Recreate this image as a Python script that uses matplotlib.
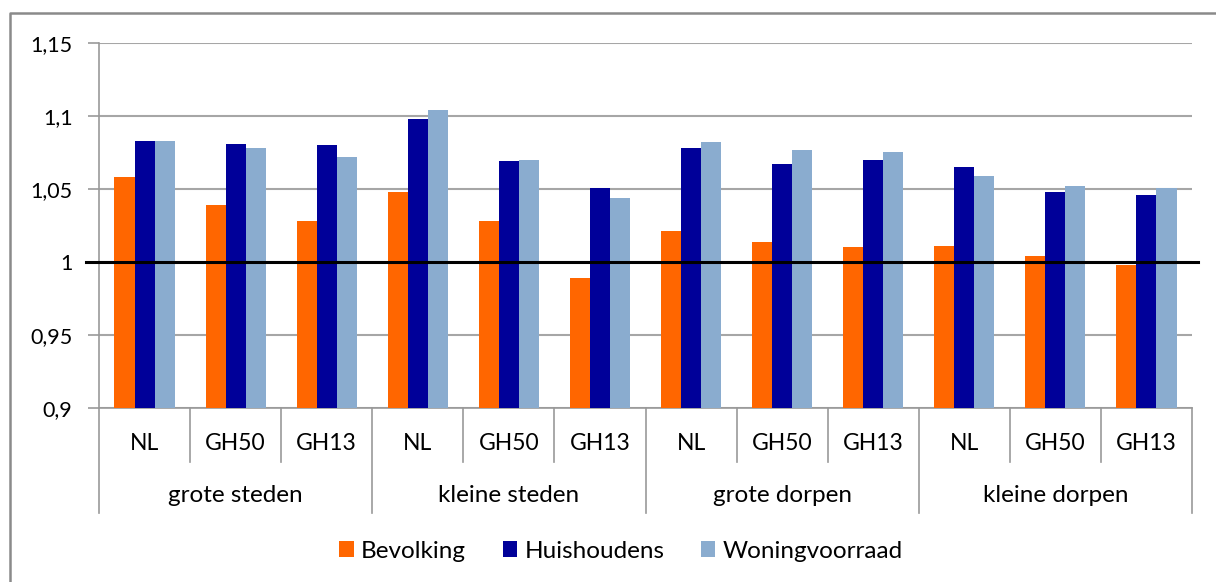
import matplotlib
matplotlib.use("Agg")
import matplotlib.pyplot as plt
from matplotlib.patches import Patch
from matplotlib.lines import Line2D
import matplotlib.transforms as mtransforms
import numpy as np

plt.rcParams['font.family'] = ['Lato', 'DejaVu Sans']

groups = ["grote steden", "kleine steden", "grote dorpen", "kleine dorpen"]
subcats = ["NL", "GH50", "GH13"]
series_names = ["Bevolking", "Huishoudens", "Woningvoorraad"]
bevolking = [1.058, 1.039, 1.028, 1.048, 1.028, 0.989, 1.021, 1.014, 1.010, 1.011, 1.004, 0.998]
huishoudens = [1.083, 1.081, 1.080, 1.098, 1.069, 1.051, 1.078, 1.067, 1.070, 1.065, 1.048, 1.046]
woningvoorraad = [1.083, 1.078, 1.072, 1.104, 1.070, 1.044, 1.082, 1.077, 1.075, 1.059, 1.052, 1.051]
ytick_vals = [0.9, 0.95, 1.0, 1.05, 1.1, 1.15]
ytick_labels = ["0,9", "0,95", "1", "1,05", "1,1", "1,15"]
colors = ["#FF6600", "#000099", "#8AACCF"]

W, H = 1216, 582
fig = plt.figure(figsize=(W / 100, H / 100), dpi=100)
fig.patch.set_facecolor("white")

# outer frame (left and top edges visible)
fig.add_artist(Line2D([10 / W, 10 / W, 1.01], [-0.01, 1 - 13 / H, 1 - 13 / H],
                      transform=fig.transFigure, color="#8a8a8a", lw=1.8))

left, right, top, bottom = 99, 1192, 43, 408
ax = fig.add_axes([left / W, (H - bottom) / H, (right - left) / W, (bottom - top) / H])

n = len(bevolking)
x = np.arange(n)
bw = 0.22
for i, (vals, col) in enumerate(zip([bevolking, huishoudens, woningvoorraad], colors)):
    ax.bar(x + (i - 1) * bw, np.array(vals) - 0.9, bottom=0.9, width=bw, color=col,
           zorder=3, linewidth=0)

ax.set_xlim(-0.5, n - 0.5)
ax.set_ylim(0.9, 1.15)
ax.set_yticks(ytick_vals)
ax.set_yticklabels(ytick_labels, fontsize=15.5)
ax.tick_params(axis="y", length=8, color="#999999", pad=11, width=1.2)
ax.set_xticks([])
ax.yaxis.grid(True, color="#a6a6a6", lw=1.5, zorder=0)
for s in ["top", "right"]:
    ax.spines[s].set_visible(False)
for s in ["left", "bottom"]:
    ax.spines[s].set_color("#999999")
    ax.spines[s].set_linewidth(1.2)

# reference line at 1
ax.plot([-0.64, n - 0.43], [1, 1], color="black", lw=2.2, zorder=5, clip_on=False)

trans = mtransforms.blended_transform_factory(ax.transData, ax.transAxes)
minor_y = -(462 - bottom) / (bottom - top)
major_y = -(513 - bottom) / (bottom - top)
for k in range(n + 1):
    yb = major_y if k % 3 == 0 else minor_y
    ax.plot([k - 0.5, k - 0.5], [0, yb], transform=trans, color="#999999", lw=1.2,
            clip_on=False)

label_fs = 17.5
sub_y = -(443 - bottom) / (bottom - top)
grp_y = -(496 - bottom) / (bottom - top)
for k in range(n):
    ax.text(k, sub_y, subcats[k % 3], transform=trans, ha="center", va="center", fontsize=16.5)
for g, name in enumerate(groups):
    ax.text(3 * g + 1, grp_y, name, transform=trans, ha="center", va="center", fontsize=label_fs)

handles = [Patch(facecolor=c, edgecolor="none") for c in colors]
fig.legend(handles, series_names, loc="center", bbox_to_anchor=(621 / W, 1 - 551 / H),
           ncol=3, frameon=False, fontsize=label_fs, handlelength=0.6, handleheight=0.6,
           handletextpad=0.3, columnspacing=1.5)

fig.savefig("out.png", dpi=100, facecolor="white")
